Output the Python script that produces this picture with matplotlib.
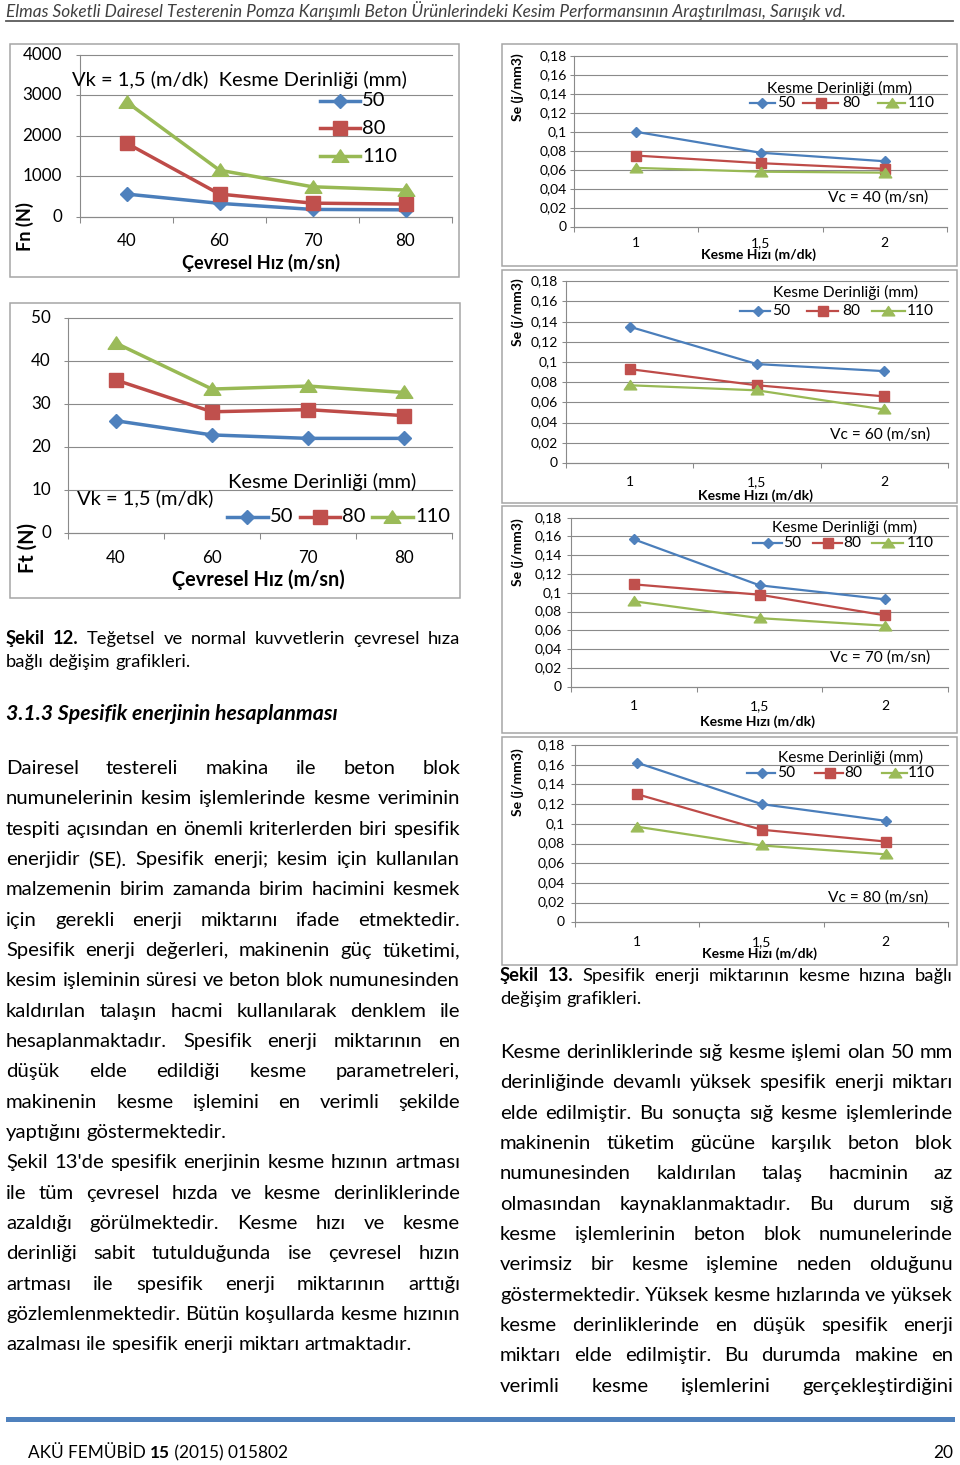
import numpy as np
import matplotlib
matplotlib.use('Agg')
import matplotlib.pyplot as plt
from matplotlib.transforms import Affine2D, blended_transform_factory
from matplotlib.patches import Rectangle
from matplotlib.lines import Line2D
from matplotlib.path import Path

# ---------------- data ----------------
depths = ['50', '80', '110']

fn_cats = ['40', '60', '70', '80']
fn_50 = [560, 330, 180, 170]
fn_80 = [1820, 560, 335, 312]
fn_110 = [2840, 1150, 740, 660]
fn_yticks = [0, 1000, 2000, 3000, 4000]

ft_cats = ['40', '60', '70', '80']
ft_50 = [26.1, 22.8, 22.0, 22.0]
ft_80 = [35.6, 28.2, 28.7, 27.3]
ft_110 = [44.2, 33.5, 34.2, 32.7]
ft_yticks = [0, 10, 20, 30, 40, 50]

se_cats = ['1', '1,5', '2']
se_yticks = [0, 0.02, 0.04, 0.06, 0.08, 0.10, 0.12, 0.14, 0.16, 0.18]
se_ylabels = ['0', '0,02', '0,04', '0,06', '0,08', '0,1', '0,12', '0,14', '0,16', '0,18']
se40_50 = [0.100, 0.078, 0.069]
se40_80 = [0.075, 0.067, 0.061]
se40_110 = [0.062, 0.058, 0.057]
se60_50 = [0.135, 0.098, 0.091]
se60_80 = [0.093, 0.077, 0.066]
se60_110 = [0.077, 0.072, 0.053]
se70_50 = [0.157, 0.108, 0.093]
se70_80 = [0.109, 0.098, 0.076]
se70_110 = [0.091, 0.073, 0.065]
se80_50 = [0.162, 0.120, 0.103]
se80_80 = [0.130, 0.094, 0.082]
se80_110 = [0.097, 0.078, 0.069]

header_text = ("Elmas Soketli Dairesel Testerenin Pomza Karışımlı Beton Ürünlerindeki "
               "Kesim Performansının Araştırılması, Sarıışık vd.")
left_body = [
    ("Dairesel testereli makina ile beton blok", True),
    ("numunelerinin kesim işlemlerinde kesme veriminin", True),
    ("tespiti açısından en önemli kriterlerden biri spesifik", True),
    ("enerjidir (SE). Spesifik enerji; kesim için kullanılan", True),
    ("malzemenin birim zamanda birim hacimini kesmek", True),
    ("için gerekli enerji miktarını ifade etmektedir.", True),
    ("Spesifik enerji değerleri, makinenin güç tüketimi,", True),
    ("kesim işleminin süresi ve beton blok numunesinden", True),
    ("kaldırılan talaşın hacmi kullanılarak denklem ile", True),
    ("hesaplanmaktadır. Spesifik enerji miktarının en", True),
    ("düşük elde edildiği kesme parametreleri,", True),
    ("makinenin kesme işlemini en verimli şekilde", True),
    ("yaptığını göstermektedir.", False),
    ("Şekil 13'de spesifik enerjinin kesme hızının artması", True),
    ("ile tüm çevresel hızda ve kesme derinliklerinde", True),
    ("azaldığı görülmektedir. Kesme hızı ve kesme", True),
    ("derinliği sabit tutulduğunda ise çevresel hızın", True),
    ("artması ile spesifik enerji miktarının arttığı", True),
    ("gözlemlenmektedir. Bütün koşullarda kesme hızının", True),
    ("azalması ile spesifik enerji miktarı artmaktadır.", False),
]
right_body = [
    "Kesme derinliklerinde sığ kesme işlemi olan 50 mm",
    "derinliğinde devamlı yüksek spesifik enerji miktarı",
    "elde edilmiştir. Bu sonuçta sığ kesme işlemlerinde",
    "makinenin tüketim gücüne karşılık beton blok",
    "numunesinden kaldırılan talaş hacminin az",
    "olmasından kaynaklanmaktadır. Bu durum sığ",
    "kesme işlemlerinin beton blok numunelerinde",
    "verimsiz bir kesme işlemine neden olduğunu",
    "göstermektedir. Yüksek kesme hızlarında ve yüksek",
    "kesme derinliklerinde en düşük spesifik enerji",
    "miktarı elde edilmiştir. Bu durumda makine en",
    "verimli kesme işlemlerini gerçekleştirdiğini",
]

# ---------------- setup ----------------
W, H = 960, 1465
FONT = ['Lato', 'DejaVu Sans']
plt.rcParams['font.family'] = FONT

fig = plt.figure(figsize=(W / 100, H / 100), dpi=100)
fig.patch.set_facecolor('white')
renderer = fig.canvas.get_renderer()
TL = Affine2D().scale(1, -1).translate(0, H)   # pixel coords, origin top-left

BLUE = ('#4A7EBB', '#4F81BD')
RED = ('#BE4B48', '#C0504D')
GREEN = ('#98B954', '#9BBB59')
SER_COLORS = [BLUE, RED, GREEN]
TRI = Path([(0, 0.8), (-1, -0.7), (1, -0.7), (0, 0.8)],
           [Path.MOVETO, Path.LINETO, Path.LINETO, Path.CLOSEPOLY])
GRID = '#8a8a8a'
FRAME = '#a6a6a6'


def tw(s, size, weight='normal', style='normal'):
    t = fig.text(0, 0, s, fontsize=size, fontweight=weight, fontstyle=style)
    w = t.get_window_extent(renderer).width
    t.remove()
    return w


def fit(s, width, weight='normal', style='normal'):
    return 20.0 * width / tw(s, 20.0, weight, style)


def ftext(x, y, s, size, **kw):
    return fig.text(x, y, s, transform=TL, fontsize=size, **kw)


def draw_line(tokens, x0, x1, yb, size, justify, color='black'):
    ws = [tw(w, size, wt, st) for w, wt, st in tokens]
    if justify and len(tokens) > 1:
        gap = (x1 - x0 - sum(ws)) / (len(tokens) - 1)
    else:
        gap = tw('a a', size) - tw('aa', size)
    x = x0
    for (w, wt, st), wd in zip(tokens, ws):
        ftext(x, yb, w, size, fontweight=wt, fontstyle=st, va='baseline',
              ha='left', color=color)
        x += wd + gap


def toks(s, weight='normal', style='normal'):
    return [(w, weight, style) for w in s.split()]


def frame(x0, y0, x1, y1):
    fig.add_artist(Rectangle((x0, y0), x1 - x0, y1 - y0, transform=TL,
                             fill=False, ec=FRAME, lw=1.1))


def make_axes(x0, x1, y_top, y_bot, n, yticks, ylim):
    ax = fig.add_axes([x0 / W, 1 - y_bot / H, (x1 - x0) / W, (y_bot - y_top) / H])
    ax.set_xlim(-0.5, n - 0.5)
    ax.set_ylim(*ylim)
    ax.set_xticks(np.arange(n + 1) - 0.5)
    ax.set_yticks(yticks)
    ax.set_xticklabels([])
    ax.set_yticklabels([])
    ax.tick_params(axis='x', length=4.2, width=0.75, color=GRID, direction='out')
    ax.tick_params(axis='y', length=3.0, width=0.75, color=GRID, direction='out')
    for s in ['top', 'right']:
        ax.spines[s].set_visible(False)
    for s in ['left', 'bottom']:
        ax.spines[s].set_color(GRID)
        ax.spines[s].set_linewidth(0.8)
    ax.yaxis.grid(True, color=GRID, lw=0.8)
    for gl in ax.get_ygridlines():
        gl.set_clip_on(False)
    ax.set_axisbelow(True)
    ax.patch.set_alpha(0)
    return ax


def tick_text(ax, cats, ylabels, yvals, x_right, y_xlab, size):
    tr_y = blended_transform_factory(TL, ax.transData)
    for v, l in zip(yvals, ylabels):
        ax.text(x_right, v, l, transform=tr_y, ha='right', va='center', fontsize=size)
    tr_x = blended_transform_factory(ax.transData, TL)
    for i, l in enumerate(cats):
        ax.text(i, y_xlab, l, transform=tr_x, ha='center', va='center', fontsize=size)


def plot_series(ax, series, lw, ms_d, ms_s, ms_t):
    markers = [('D', ms_d), ('s', ms_s), (TRI, ms_t)]
    x = np.arange(len(series[0]))
    for vals, (lc, mc), (mk, ms) in zip(series, SER_COLORS, markers):
        ax.plot(x, vals, color=lc, lw=lw, marker=mk, ms=ms, mfc=mc, mec=mc,
                clip_on=False, zorder=3)


def legend_key(x0, x1, xm, y, idx, lw, ms):
    lc, mc = SER_COLORS[idx]
    mk = ['D', 's', TRI][idx]
    fig.add_artist(Line2D([x0, x1], [y, y], transform=TL, color=lc, lw=lw))
    fig.add_artist(Line2D([xm], [y], transform=TL, marker=mk, ms=ms[idx],
                          mfc=mc, mec=mc, ls='none'))


# ---------------- font sizes ----------------
S_BODY = fit("azalması ile spesifik enerji miktarı artmaktadır.", 407)
S_CAP = fit("bağlı değişim grafikleri.", 184)
S_HEAD = fit("3.1.3 Spesifik enerjinin hesaplanması", 331, 'bold', 'italic')
S_HDR = fit(header_text, 842, 'normal', 'italic')
S_FOOT = fit("AKÜ FEMÜBİD 15 (2015) 015802", 259)
S_L = fit("Kesme Derinliği (mm)", 189)
S_LT = fit("4000", 39.5)
S_R = fit("Kesme Derinliği (mm)", 145)
S_RT = fit("0,18", 27.5)
S_LB1 = fit("Çevresel Hız (m/sn)", 157, 'bold')
S_LB2 = fit("Çevresel Hız (m/sn)", 172, 'bold')
S_RB = fit("Kesme Hızı (m/dk)", 115, 'bold')

# ---------------- header / footer ----------------
ftext(6, 16.5, header_text, S_HDR, fontstyle='italic', color='#404040', va='baseline')
fig.add_artist(Line2D([6, 953], [21, 21], transform=TL, color='#5a5a5a', lw=1.3))
fig.add_artist(Rectangle((6, 1416.5), 949, 5.5, transform=TL, fc='#4F81BD', ec='none'))
x = 28
for part, wt in [("AKÜ FEMÜBİD ", 'normal'), ("15", 'bold'), (" (2015) 015802", 'normal')]:
    ftext(x, 1458, part, S_FOOT, fontweight=wt, va='baseline', ha='left')
    x += tw(part.replace(' ', '\u00a0'), S_FOOT, wt)
ftext(953, 1458, "20", S_FOOT, va='baseline', ha='right')

# ---------------- Fn chart ----------------
frame(10, 44, 459, 277)
ax = make_axes(80, 452, 55, 216.7, 4, fn_yticks, (0, 4000))
plot_series(ax, [fn_50, fn_80, fn_110], 2.5, 7, 10, 12)
tick_text(ax, fn_cats, [str(v) for v in fn_yticks], fn_yticks, 62, 241, S_LT)
ftext(261, 263, "Çevresel Hız (m/sn)", S_LB1, fontweight='bold', ha='center', va='center')
ftext(25, 227, "Fn (N)", S_LB1, fontweight='bold', ha='center', va='center', rotation=90)
ftext(72, 80, "Vk = 1,5 (m/dk)  Kesme Derinliği (mm)", S_L, ha='left', va='center')
for i, (yy, lab) in enumerate(zip([101, 128, 156], depths)):
    legend_key(320, 360, 340, yy, i, 2.5, [7, 10, 12])
    ftext(362, yy, lab, S_L, ha='left', va='center')

# ---------------- Ft chart ----------------
frame(10, 303, 460, 598)
ax = make_axes(68, 452, 318.3, 532.7, 4, ft_yticks, (0, 50))
plot_series(ax, [ft_50, ft_80, ft_110], 2.5, 7, 10, 12)
tick_text(ax, ft_cats, [str(v) for v in ft_yticks], ft_yticks, 51, 558, S_LT)
ftext(258, 580, "Çevresel Hız (m/sn)", S_LB2, fontweight='bold', ha='center', va='center')
ftext(28, 548, "Ft (N)", S_LB2, fontweight='bold', ha='center', va='center', rotation=90)
ftext(322, 482, "Kesme Derinliği (mm)", S_L, ha='center', va='center')
ftext(77, 498, "Vk = 1,5 (m/dk)", S_L, ha='left', va='center')
for i, (x0, x1, xm, xt, lab) in enumerate(zip([227, 300, 372], [268, 340, 413],
                                              [247, 320, 392], [270, 342, 415], depths)):
    legend_key(x0, x1, xm, 517, i, 2.5, [7, 10, 12])
    ftext(xt, 517, lab, S_L, ha='left', va='center')

# ---------------- Se charts ----------------
se_layout = [
    dict(data=[se40_50, se40_80, se40_110], vc='40', frame=(502, 44, 957, 266),
         ax=(574, 947, 56, 226.7), tr=567, xl=243, xt=255, yl=87,
         lt=(840, 88), ly=103, lx=[(750, 775, 762, 777), (803, 838, 821, 842), (878, 905, 892, 908)],
         vcp=(928, 198)),
    dict(data=[se60_50, se60_80, se60_110], vc='60', frame=(502, 270, 957, 503),
         ax=(566, 948, 281.3, 463), tr=558, xl=482, xt=496, yl=312,
         lt=(846, 292), ly=311, lx=[(740, 770, 758, 772), (807, 838, 823, 842), (872, 905, 888, 907)],
         vcp=(930, 435)),
    dict(data=[se70_50, se70_80, se70_110], vc='70', frame=(502, 506, 957, 733),
         ax=(571, 948, 517.7, 686.7), tr=562, xl=706, xt=722, yl=552,
         lt=(845, 527), ly=543, lx=[(753, 782, 768, 783), (813, 842, 828, 843), (872, 903, 888, 907)],
         vcp=(930, 658)),
    dict(data=[se80_50, se80_80, se80_110], vc='80', frame=(502, 737, 957, 965),
         ax=(575, 948, 745, 922.3), tr=565, xl=942, xt=954, yl=782,
         lt=(851, 757), ly=773, lx=[(747, 775, 762, 777), (815, 843, 830, 844), (882, 907, 895, 908)],
         vcp=(928, 898)),
]
for c in se_layout:
    frame(*c['frame'])
    x0, x1, yt, yb = c['ax']
    ax = make_axes(x0, x1, yt, yb, 3, se_yticks, (0, 0.18))
    ax.tick_params(axis='x', length=3.6)
    plot_series(ax, c['data'], 1.6, 5.5, 7.5, 9)
    tick_text(ax, se_cats, se_ylabels, se_yticks, c['tr'], c['xl'], S_RT)
    ftext((x0 + x1) / 2 - 2, c['xt'], "Kesme Hızı (m/dk)", S_RB, fontweight='bold',
          ha='center', va='center')
    ftext(518, c['yl'], "Se (j/mm3)", S_RB, fontweight='bold', ha='center', va='center',
          rotation=90)
    ftext(c['lt'][0], c['lt'][1], "Kesme Derinliği (mm)", S_R, ha='center', va='center')
    for i, ((a, b, m, t), lab) in enumerate(zip(c['lx'], depths)):
        legend_key(a, b, m, c['ly'], i, 1.6, [5.5, 7.5, 9])
        ftext(t, c['ly'], lab, S_R, ha='left', va='center')
    ftext(c['vcp'][0], c['vcp'][1], "Vc = %s (m/sn)" % c['vc'], S_R, ha='right', va='center')

# ---------------- captions & text ----------------
draw_line(toks("Şekil 12.", 'bold') + toks("Teğetsel ve normal kuvvetlerin çevresel hıza"),
          6, 460, 644, S_CAP, True)
draw_line(toks("bağlı değişim grafikleri."), 6, 460, 667, S_CAP, False)
ftext(6, 720, "3.1.3 Spesifik enerjinin hesaplanması", S_HEAD, fontweight='bold',
      fontstyle='italic', va='baseline', ha='left')

for k, (line, just) in enumerate(left_body):
    draw_line(toks(line), 6, 460, 774 + 30.33 * k, S_BODY, just)

draw_line(toks("Şekil 13.", 'bold') + toks("Spesifik enerji miktarının kesme hızına bağlı"),
          500, 953, 981, S_CAP, True)
draw_line(toks("değişim grafikleri."), 500, 953, 1004, S_CAP, False)

for k, line in enumerate(right_body):
    draw_line(toks(line), 500, 953, 1058 + 30.33 * k, S_BODY, True)

fig.savefig('out.png', dpi=100, facecolor='white')
